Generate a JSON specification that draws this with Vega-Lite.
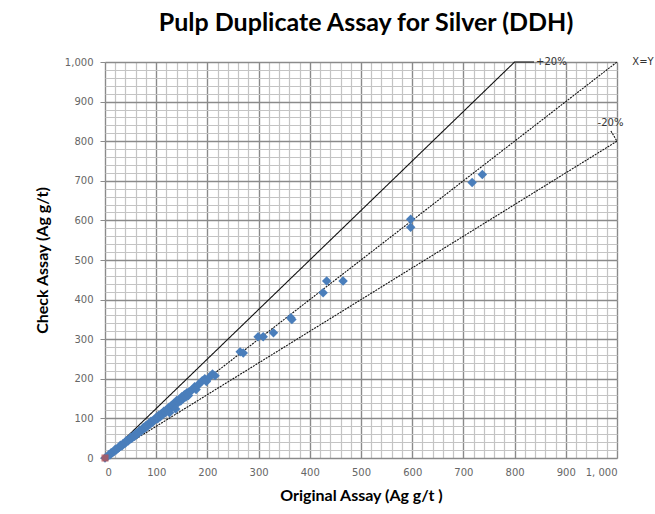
{
  "$schema": "https://vega.github.io/schema/vega-lite/v6.json",
  "width": 512,
  "height": 396,
  "autosize": {"type": "none"},
  "padding": {"left": 105, "top": 62, "right": 38, "bottom": 56},
  "background": "white",
  "config": {"view": {"stroke": "#868686", "strokeWidth": 1}},
  "title": {"text": "Pulp Duplicate Assay for Silver (DDH)", "font": "Lato", "fontSize": 25, "fontWeight": "bold", "color": "#000000", "anchor": "middle", "offset": 21, "dx": 5},
  "resolve": {"axis": {"x": "independent", "y": "independent"}},
  "datasets": {
    "pts": [
      {"orig": 0, "check": 0},
      {"orig": 5, "check": 4}, {"orig": 8, "check": 9}, {"orig": 10, "check": 8}, {"orig": 12, "check": 13},
      {"orig": 15, "check": 14}, {"orig": 18, "check": 17}, {"orig": 20, "check": 22}, {"orig": 22, "check": 20},
      {"orig": 25, "check": 24}, {"orig": 28, "check": 27}, {"orig": 30, "check": 32}, {"orig": 33, "check": 30},
      {"orig": 35, "check": 36}, {"orig": 38, "check": 37}, {"orig": 40, "check": 38}, {"orig": 42, "check": 44},
      {"orig": 45, "check": 43}, {"orig": 48, "check": 47}, {"orig": 50, "check": 52}, {"orig": 52, "check": 49},
      {"orig": 55, "check": 56}, {"orig": 58, "check": 55}, {"orig": 60, "check": 62}, {"orig": 63, "check": 60},
      {"orig": 65, "check": 64}, {"orig": 68, "check": 70}, {"orig": 70, "check": 67}, {"orig": 73, "check": 72},
      {"orig": 75, "check": 77}, {"orig": 78, "check": 75}, {"orig": 80, "check": 82}, {"orig": 83, "check": 80},
      {"orig": 85, "check": 86}, {"orig": 88, "check": 85}, {"orig": 90, "check": 93}, {"orig": 93, "check": 90},
      {"orig": 95, "check": 96}, {"orig": 98, "check": 97}, {"orig": 100, "check": 102}, {"orig": 103, "check": 99},
      {"orig": 105, "check": 108}, {"orig": 108, "check": 104}, {"orig": 110, "check": 112}, {"orig": 113, "check": 110},
      {"orig": 115, "check": 118}, {"orig": 118, "check": 115}, {"orig": 120, "check": 122}, {"orig": 123, "check": 119},
      {"orig": 125, "check": 128}, {"orig": 126, "check": 114}, {"orig": 128, "check": 125}, {"orig": 130, "check": 133},
      {"orig": 133, "check": 130}, {"orig": 135, "check": 138}, {"orig": 138, "check": 124},
      {"orig": 140, "check": 145}, {"orig": 143, "check": 140}, {"orig": 145, "check": 148}, {"orig": 148, "check": 144},
      {"orig": 150, "check": 155}, {"orig": 153, "check": 150}, {"orig": 155, "check": 160}, {"orig": 158, "check": 154},
      {"orig": 160, "check": 165}, {"orig": 163, "check": 158}, {"orig": 165, "check": 168}, {"orig": 170, "check": 172},
      {"orig": 175, "check": 180}, {"orig": 178, "check": 173}, {"orig": 182, "check": 185}, {"orig": 185, "check": 188},
      {"orig": 190, "check": 195}, {"orig": 195, "check": 200}, {"orig": 198, "check": 193}, {"orig": 205, "check": 205},
      {"orig": 210, "check": 212}, {"orig": 215, "check": 208},
      {"orig": 264, "check": 268}, {"orig": 270, "check": 265}, {"orig": 299, "check": 306}, {"orig": 309, "check": 306},
      {"orig": 329, "check": 316}, {"orig": 363, "check": 354}, {"orig": 365, "check": 350}, {"orig": 426, "check": 417},
      {"orig": 433, "check": 447}, {"orig": 465, "check": 447}, {"orig": 597, "check": 603}, {"orig": 597, "check": 583},
      {"orig": 717, "check": 696}, {"orig": 737, "check": 716}
    ],
    "lines": [
      {"s": "p20", "o": 1, "x": 0, "y": 0}, {"s": "p20", "o": 2, "x": 800, "y": 1000}, {"s": "p20", "o": 3, "x": 838, "y": 1000},
      {"s": "xy", "o": 1, "x": 0, "y": 0}, {"s": "xy", "o": 2, "x": 1000, "y": 1000},
      {"s": "m20", "o": 1, "x": 0, "y": 0}, {"s": "m20", "o": 2, "x": 1000, "y": 800}, {"s": "m20", "o": 3, "x": 988, "y": 826}
    ],
    "labels": [
      {"t": "+20%", "x": 842, "y": 1000},
      {"t": "X=Y", "x": 1030, "y": 1000},
      {"t": "-20%", "x": 962, "y": 846}
    ]
  },
  "layer": [
    {
      "data": {"name": "lines"},
      "mark": {"type": "line", "color": "#111111", "strokeWidth": 1.1, "clip": false},
      "encoding": {
        "x": {"field": "x", "type": "quantitative", "scale": {"domain": [0, 1000], "nice": false},
          "axis": {"orient": "top", "values": [0,20,40,60,80,100,120,140,160,180,200,220,240,260,280,300,320,340,360,380,400,420,440,460,480,500,520,540,560,580,600,620,640,660,680,700,720,740,760,780,800,820,840,860,880,900,920,940,960,980,1000],
            "grid": true, "gridColor": "#c4c4c4", "gridWidth": 1.2, "labels": false, "ticks": false, "domain": false, "title": null}},
        "y": {"field": "y", "type": "quantitative", "scale": {"domain": [0, 1000], "nice": false},
          "axis": {"orient": "right", "values": [0,20,40,60,80,100,120,140,160,180,200,220,240,260,280,300,320,340,360,380,400,420,440,460,480,500,520,540,560,580,600,620,640,660,680,700,720,740,760,780,800,820,840,860,880,900,920,940,960,980,1000],
            "grid": true, "gridColor": "#c4c4c4", "gridWidth": 1.2, "labels": false, "ticks": false, "domain": false, "title": null}},
        "detail": {"field": "s"},
        "order": {"field": "o", "type": "quantitative"},
        "strokeDash": {"field": "s", "type": "nominal", "scale": {"domain": ["p20", "xy", "m20"], "range": [[1, 0], [2, 1], [2, 1]]}, "legend": null}
      }
    },
    {
      "data": {"name": "pts"},
      "mark": {"type": "point", "shape": "diamond", "filled": true, "color": "#4a7ebb", "opacity": 1, "size": 90},
      "encoding": {
        "x": {"field": "orig", "type": "quantitative",
          "axis": {"orient": "bottom", "values": [0,100,200,300,400,500,600,700,800,900,1000], "grid": true, "gridColor": "#8a8a8a", "gridWidth": 1.3,
            "labelExpr": "datum.value == 1000 ? '1, 000' : datum.label", "labelFont": "DejaVu Sans", "labelFontSize": 10, "labelColor": "#666666", "labelPadding": 9,
            "ticks": false, "domain": false, "title": "Original Assay (Ag g/t )", "titleFont": "Lato", "titleFontSize": 16, "titleFontWeight": "bold", "titleColor": "#000000", "titlePadding": 10}},
        "y": {"field": "check", "type": "quantitative",
          "axis": {"orient": "left", "values": [0,100,200,300,400,500,600,700,800,900,1000], "grid": true, "gridColor": "#8a8a8a", "gridWidth": 1.3, "format": ",d",
            "labelFont": "DejaVu Sans", "labelFontSize": 10, "labelColor": "#666666", "labelPadding": 7,
            "ticks": true, "tickSize": 5, "tickColor": "#8a8a8a", "domain": false, "title": "Check Assay (Ag g/t)", "titleFont": "Lato", "titleFontSize": 16, "titleFontWeight": "bold", "titleColor": "#000000", "titlePadding": 14}}
      }
    },
    {
      "data": {"values": [{"orig": 0, "check": 0}]},
      "mark": {"type": "point", "shape": "square", "filled": true, "color": "#c0504d", "size": 50, "clip": false},
      "encoding": {
        "x": {"field": "orig", "type": "quantitative", "axis": null},
        "y": {"field": "check", "type": "quantitative", "axis": null}
      }
    },
    {
      "data": {"name": "labels"},
      "mark": {"type": "text", "font": "DejaVu Sans", "fontSize": 10, "color": "#333333", "align": "left", "baseline": "middle", "clip": false},
      "encoding": {
        "x": {"field": "x", "type": "quantitative", "axis": null},
        "y": {"field": "y", "type": "quantitative", "axis": null},
        "text": {"field": "t"}
      }
    }
  ]
}
